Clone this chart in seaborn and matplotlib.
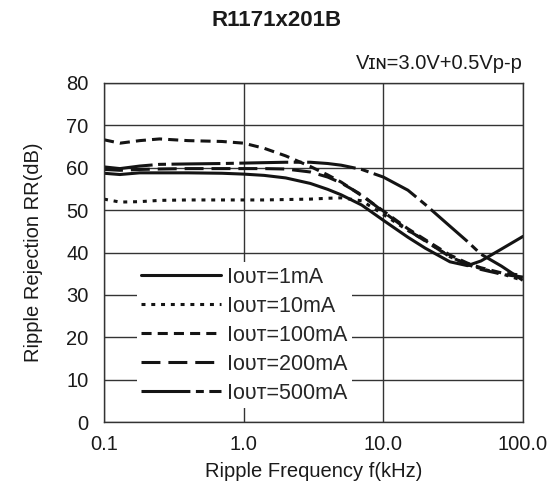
import pandas as pd
import seaborn as sns
import matplotlib.pyplot as plt

# Ripple rejection vs frequency
freq_khz = [0.1, 0.13, 0.18, 0.25, 0.4, 0.7, 1, 1.4, 2, 3, 4, 5, 7,
            10, 15, 20, 30, 40, 50, 70, 100]

rr_1ma = [58.7, 58.4, 58.8, 58.8, 58.8, 58.7, 58.5, 58.2, 57.6, 56.3, 54.9, 53.6, 51.2,
          47.6, 43.6, 41.0, 37.8, 36.9, 38.0, 40.8, 43.8]
rr_10ma = [52.6, 51.9, 52.0, 52.3, 52.4, 52.4, 52.4, 52.4, 52.5, 52.6, 52.8, 52.9, 52.2,
           49.0, 45.2, 42.8, 39.0, 37.2, 36.2, 35.0, 33.4]
rr_100ma = [66.6, 65.8, 66.4, 66.8, 66.4, 66.2, 65.8, 64.6, 62.8, 60.3, 58.3, 56.6, 53.4,
            49.8, 45.6, 43.0, 39.4, 37.5, 36.4, 35.2, 34.6]
rr_200ma = [59.6, 59.4, 59.6, 59.7, 59.8, 59.8, 59.8, 59.8, 59.7, 59.0, 57.8, 56.4, 53.6,
            49.6, 45.3, 42.7, 39.0, 37.2, 36.0, 34.9, 34.2]
rr_500ma = [60.2, 59.8, 60.4, 60.8, 60.9, 61.0, 61.1, 61.2, 61.3, 61.3, 61.0, 60.6, 59.6,
            57.8, 54.7, 51.3, 46.2, 42.6, 39.6, 36.8, 33.4]

# small-cap "OUT" like the datasheet
series_labels = ["I\u1d0f\u1d1c\u1d1b=1mA", "I\u1d0f\u1d1c\u1d1b=10mA", "I\u1d0f\u1d1c\u1d1b=100mA",
                 "I\u1d0f\u1d1c\u1d1b=200mA", "I\u1d0f\u1d1c\u1d1b=500mA"]
series_values = [rr_1ma, rr_10ma, rr_100ma, rr_200ma, rr_500ma]

df = pd.concat([
    pd.DataFrame({"freq": freq_khz, "rr": vals, "load": lab})
    for lab, vals in zip(series_labels, series_values)
])

sns.set_theme(style="white")
plt.rcParams['font.family'] = ['Liberation Sans', 'DejaVu Sans']
grid_col = "#333333"

fig = plt.figure(figsize=(5.54, 4.92), dpi=100)
ax = fig.add_axes([104 / 554, 70 / 492, 419 / 554, 339 / 492])

line_dashes = ["", (1.3, 1.9), (3.3, 2.0), (6.2, 2.6), (16, 1.8, 2.6, 1.8)]
sns.lineplot(data=df, x="freq", y="rr", style="load", dashes=line_dashes,
             color="#141414", lw=2.2, ax=ax, legend=True)
for ln in ax.get_lines():
    ln.set_dash_capstyle("butt")

ax.set_xscale("log")
ax.set_xlim(0.1, 100)
ax.set_ylim(0, 80)
ax.set_xticks([0.1, 1, 10, 100])
ax.set_xticklabels(["0.1", "1.0", "10.0", "100.0"])
ax.minorticks_off()
ax.set_yticks(range(0, 81, 10))
ax.grid(True, color=grid_col, lw=1.0)
ax.set_axisbelow(True)
for sp in ax.spines.values():
    sp.set_color(grid_col)
    sp.set_linewidth(1.0)
ax.tick_params(axis="both", length=0, labelsize=14.5, colors="#1a1a1a")
ax.tick_params(axis="x", pad=9)
ax.tick_params(axis="y", pad=11)

ax.set_xlabel("Ripple Frequency f(kHz)", fontsize=14.5, color="#1a1a1a", labelpad=6)
ax.set_ylabel("Ripple Rejection RR(dB)", fontsize=14.5, color="#1a1a1a", labelpad=17)
fig.text(0.5, 0.958, "R1171x201B", ha="center", va="center", fontsize=16,
         fontweight="bold", color="#1a1a1a")
ax.text(1.0, 1.03, "V\u026a\u0274=3.0V+0.5Vp-p", transform=ax.transAxes, ha="right",
        va="bottom", fontsize=14.5, color="#1a1a1a")

leg = ax.legend(loc="lower left", bbox_to_anchor=(0.053, 0.01), fontsize=15.5,
                frameon=True, facecolor="white", edgecolor="none", framealpha=1,
                handlelength=3.7, handletextpad=0.3, labelspacing=0.37,
                borderpad=0.2, fancybox=False)
for h in leg.get_lines():
    h.set_linewidth(2.2)
    h.set_color("#141414")

plt.savefig("out.png", dpi=100)
